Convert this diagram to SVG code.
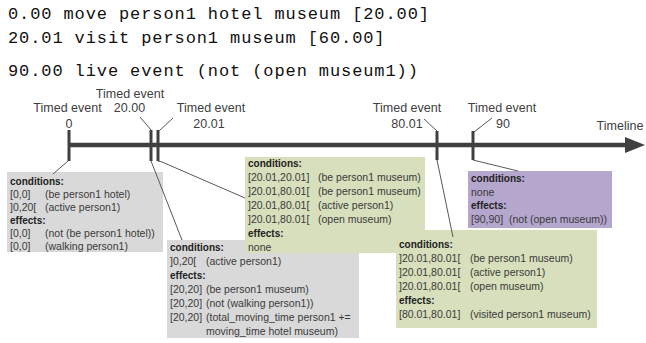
<svg xmlns="http://www.w3.org/2000/svg" width="646" height="343" viewBox="0 0 646 343">
<style>
.mono{font-family:"Liberation Mono","Courier New",monospace;font-size:17px;letter-spacing:0.9px;fill:#111}
.lbl{font-family:"Liberation Sans",Arial,sans-serif;font-size:12.5px;fill:#404040;text-anchor:middle}
.t{font-family:"Liberation Sans",Arial,sans-serif;font-size:10.5px;fill:#3a3a3a}
.b{font-family:"Liberation Sans",Arial,sans-serif;font-size:10px;font-weight:bold;fill:#222}
.tick{stroke:#404040;stroke-width:3;fill:none}
.con{stroke:#595959;stroke-width:1;fill:none}
.gray{fill:#d9d9d9}
.green{fill:#d7dfbc}
.purple{fill:#b4a6cc}
</style>
<rect width="646" height="343" fill="#ffffff"/>
<g id="header">
<text class="mono" x="8" y="19">0.00 move person1 hotel museum [20.00]</text>
<text class="mono" x="8" y="42.5">20.01 visit person1 museum [60.00]</text>
<text class="mono" x="8" y="76">90.00 live event (not (open museum1))</text>
</g>
<g id="timeline">
<line x1="70" y1="145" x2="627" y2="145" stroke="#404040" stroke-width="4.5"/>
<polygon points="625,137 645,145 625,153" fill="#404040"/>
<text class="lbl" x="620" y="130">Timeline</text>
</g>
<g id="event-0">
<line class="tick" x1="69" y1="130" x2="69" y2="161"/>
<text class="lbl" x="67.5" y="112">Timed event</text>
<text class="lbl" x="69" y="128">0</text>
</g>
<g id="event-20.00">
<line class="tick" x1="151" y1="130" x2="151" y2="161"/>
<text class="lbl" x="130" y="98">Timed event</text>
<text class="lbl" x="129.5" y="112">20.00</text>
</g>
<g id="event-20.01">
<line class="tick" x1="158" y1="130" x2="158" y2="161"/>
<text class="lbl" x="211" y="112">Timed event</text>
<text class="lbl" x="209" y="128">20.01</text>
</g>
<g id="event-80.01">
<line class="tick" x1="437" y1="131" x2="437" y2="160"/>
<text class="lbl" x="407" y="112">Timed event</text>
<text class="lbl" x="407" y="128">80.01</text>
</g>
<g id="event-90">
<line class="tick" x1="473" y1="131" x2="473" y2="160"/>
<text class="lbl" x="502" y="112">Timed event</text>
<text class="lbl" x="503" y="128">90</text>
</g>
<g id="box-0">
<rect class="gray" x="7" y="172" width="156" height="80"/>
<text class="b" x="10" y="185">conditions:</text>
<text class="t" x="10" y="198">[0,0]</text><text class="t" x="45" y="198">(be person1 hotel)</text>
<text class="t" x="10" y="211">]0,20[</text><text class="t" x="45" y="211">(active person1)</text>
<text class="b" x="10" y="224">effects:</text>
<text class="t" x="10" y="237">[0,0]</text><text class="t" x="45" y="237">(not (be person1 hotel))</text>
<text class="t" x="10" y="250">[0,0]</text><text class="t" x="45" y="250">(walking person1)</text>
</g>
<g id="box-20.00">
<rect class="gray" x="167" y="240" width="192" height="98"/>
<text class="b" x="170" y="251">conditions:</text>
<text class="t" x="170" y="265">]0,20[</text><text class="t" x="206" y="265">(active person1)</text>
<text class="b" x="170" y="279">effects:</text>
<text class="t" x="170" y="293">[20,20]</text><text class="t" x="206" y="293">(be person1 museum)</text>
<text class="t" x="170" y="307">[20,20]</text><text class="t" x="206" y="307">(not (walking person1))</text>
<text class="t" x="170" y="321">[20,20]</text><text class="t" x="206" y="321">(total_moving_time person1 +=</text>
<text class="t" x="206" y="335">moving_time hotel museum)</text>
</g>
<g id="box-20.01">
<rect class="green" x="245" y="157" width="180" height="96"/>
<text class="b" x="248" y="167">conditions:</text>
<text class="t" x="248" y="181">[20.01,20.01]</text><text class="t" x="318" y="181">(be person1 museum)</text>
<text class="t" x="248" y="195">]20.01,80.01[</text><text class="t" x="318" y="195">(be person1 museum)</text>
<text class="t" x="248" y="209">]20.01,80.01[</text><text class="t" x="318" y="209">(active person1)</text>
<text class="t" x="248" y="223">]20.01,80.01[</text><text class="t" x="318" y="223">(open museum)</text>
<text class="b" x="248" y="237">effects:</text>
<text class="t" x="248" y="251">none</text>
</g>
<g id="box-90">
<rect class="purple" x="468" y="171" width="144" height="57"/>
<text class="b" x="471" y="182">conditions:</text>
<text class="t" x="471" y="195.5">none</text>
<text class="b" x="471" y="209">effects:</text>
<text class="t" x="471" y="222.5">[90,90]</text><text class="t" x="509" y="222.5">(not (open museum))</text>
</g>
<g id="box-80.01">
<rect class="green" x="396" y="230" width="201" height="98"/>
<text class="b" x="399" y="248">conditions:</text>
<text class="t" x="399" y="262">]20.01,80.01[</text><text class="t" x="470" y="262">(be person1 museum)</text>
<text class="t" x="399" y="276">]20.01,80.01[</text><text class="t" x="470" y="276">(active person1)</text>
<text class="t" x="399" y="290">]20.01,80.01[</text><text class="t" x="470" y="290">(open museum)</text>
<text class="b" x="399" y="304">effects:</text>
<text class="t" x="399" y="318">[80.01,80.01]</text><text class="t" x="470" y="318">(visited person1 museum)</text>
</g>
<g id="connectors">
<line class="con" x1="140" y1="117" x2="151" y2="130"/>
<line class="con" x1="159" y1="131" x2="173" y2="118"/>
<line class="con" x1="424" y1="119" x2="437" y2="131"/>
<line class="con" x1="474" y1="132" x2="492" y2="118"/>
<line class="con" x1="68" y1="161" x2="53" y2="174"/>
<line class="con" x1="151" y1="161" x2="182" y2="240"/>
<polyline class="con" points="158,161 162,162 245,198"/>
<line class="con" x1="437" y1="160" x2="453" y2="237"/>
<polyline class="con" points="473,160 477,161 518,171"/>
</g>
</svg>
